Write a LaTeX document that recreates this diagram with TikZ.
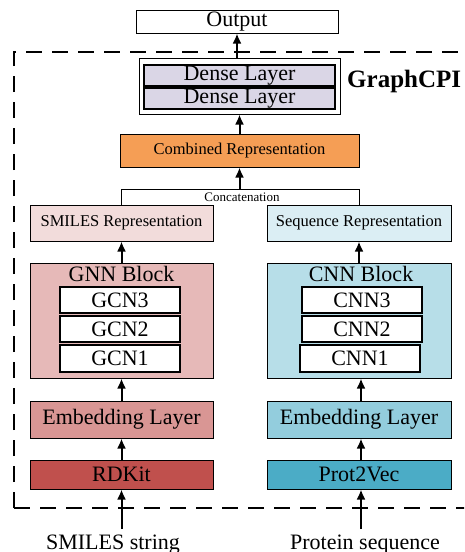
\documentclass[tikz,border=0pt]{standalone}
\usepackage{fontspec}
\setmainfont{Liberation Serif}
\usetikzlibrary{arrows.meta}
\definecolor{densec}{HTML}{DAD6E6}
\definecolor{combc}{HTML}{F59E55}
\definecolor{smrepc}{HTML}{F2DCDB}
\definecolor{seqrepc}{HTML}{DBEEF4}
\definecolor{gnnc}{HTML}{E6B9B8}
\definecolor{cnnc}{HTML}{B7DEE8}
\definecolor{embLc}{HTML}{D99694}
\definecolor{embRc}{HTML}{93CDDD}
\definecolor{rdkc}{HTML}{C0504D}
\definecolor{protc}{HTML}{4BACC6}
\tikzset{
  box/.style={draw=black, line width=1pt, inner sep=0pt, align=center, font=\fontsize{22}{24}\selectfont},
  innerbox/.style={box, line width=1.8pt, fill=white},
  repbox/.style={box, font=\fontsize{16.5}{18}\selectfont},
  arr/.style={line width=2pt, -{Latex[length=10pt,width=9pt]}},
}
\begin{document}
\begin{tikzpicture}[x=1pt,y=-1pt]
\useasboundingbox (0,0) rectangle (464,552);
\clip (0,0) rectangle (464,552);
% dashed frame
\draw[line width=2pt, dash pattern=on 16pt off 10pt] (14,508) -- (14,52) -- (480,52);
\draw[line width=2pt, dash pattern=on 16pt off 10pt] (14,508) -- (480,508);
\node[font=\fontsize{25}{27}\selectfont\bfseries, anchor=base west, inner sep=0pt] (gcpi) at (347,87) {GraphCPI};

% top
\node[box, minimum width=202pt, minimum height=23pt] (out) at (237,21.5) {Output};
\node[box, minimum width=201pt, minimum height=56pt] (dense) at (239.5,86) {};
\node[innerbox, line width=1.5pt, fill=densec, minimum width=191pt, minimum height=21pt] (d1) at (239.5,75.5) {Dense Layer};
\node[innerbox, line width=1.5pt, fill=densec, minimum width=191pt, minimum height=21pt] (d2) at (239.5,98.5) {Dense Layer};
\node[repbox, fill=combc, minimum width=239pt, minimum height=33pt] (comb) at (239.5,150.5) {Combined Representation};

% representations
\node[repbox, fill=smrepc, minimum width=183pt, minimum height=36pt] (smrep) at (121.5,223) {SMILES Representation};
\node[repbox, fill=seqrepc, minimum width=184pt, minimum height=36pt] (seqrep) at (359,223) {Sequence Representation};

% concatenation
\coordinate (cL) at (smrep.north |- 0,189);
\coordinate (cR) at (seqrep.north |- 0,189);
\coordinate (cM) at (comb.south |- 0,189);
\draw[line width=1pt] (smrep.north) -- (cL) -- (cR) -- (seqrep.north);
\node[font=\fontsize{13}{14}\selectfont, inner sep=0pt] (concat) at (242,197.5) {Concatenation};

% blocks
\node[box, fill=gnnc, minimum width=183pt, minimum height=115pt] (gnn) at (121.5,320.5) {};
\node[font=\fontsize{22}{24}\selectfont, inner sep=0pt] (gnnt) at (121.5,274) {GNN Block};
\node[innerbox, minimum width=120pt, minimum height=26pt] (g3) at (120,300) {GCN3};
\node[innerbox, minimum width=120pt, minimum height=26pt] (g2) at (120,329) {GCN2};
\node[innerbox, minimum width=120pt, minimum height=27pt] (g1) at (120,358.5) {GCN1};

\node[box, fill=cnnc, minimum width=184pt, minimum height=115pt] (cnn) at (359,320.5) {};
\node[font=\fontsize{22}{24}\selectfont, inner sep=0pt] (cnnt) at (361,274) {CNN Block};
\node[innerbox, minimum width=120pt, minimum height=26pt] (c3) at (362,300) {CNN3};
\node[innerbox, minimum width=120pt, minimum height=26pt] (c2) at (362,329) {CNN2};
\node[innerbox, minimum width=120pt, minimum height=27pt] (c1) at (360,358.5) {CNN1};

\node[box, fill=embLc, minimum width=183pt, minimum height=37pt] (embL) at (121.5,419.5) {Embedding Layer};
\node[box, fill=embRc, minimum width=184pt, minimum height=37pt] (embR) at (359,419.5) {Embedding Layer};
\node[box, fill=rdkc, minimum width=183pt, minimum height=29pt] (rdk) at (121.5,474.5) {RDKit};
\node[box, fill=protc, minimum width=184pt, minimum height=29pt] (prot) at (359,474.5) {Prot2Vec};

% inputs
\coordinate (inL) at (121.5,529);
\coordinate (inR) at (361,529);
\node[font=\fontsize{22}{24}\selectfont, anchor=base, inner sep=0pt] (smstr) at (113,549.5) {SMILES string};
\node[font=\fontsize{22}{24}\selectfont, anchor=base, inner sep=0pt] (pseq) at (365,549.5) {Protein sequence};

% arrows
\draw[arr] (inL) -- (rdk.south);
\draw[arr] (inR) -- (prot.south -| inR);
\draw[arr] (rdk.north) -- (embL.south);
\draw[arr] ([xshift=2pt]prot.north) -- ([xshift=2pt]embR.south);
\draw[arr] (embL.north) -- (gnn.south);
\draw[arr] ([xshift=2pt]embR.north) -- ([xshift=2pt]cnn.south);
\draw[arr] (gnn.north) -- (smrep.south);
\draw[arr] (cnn.north) -- (seqrep.south);
\draw[arr] (cM) -- (comb.south);
\draw[arr] (comb.north) -- (dense.south);
\draw[arr] (dense.north -| out.south) -- (out.south);
\end{tikzpicture}
\end{document}
